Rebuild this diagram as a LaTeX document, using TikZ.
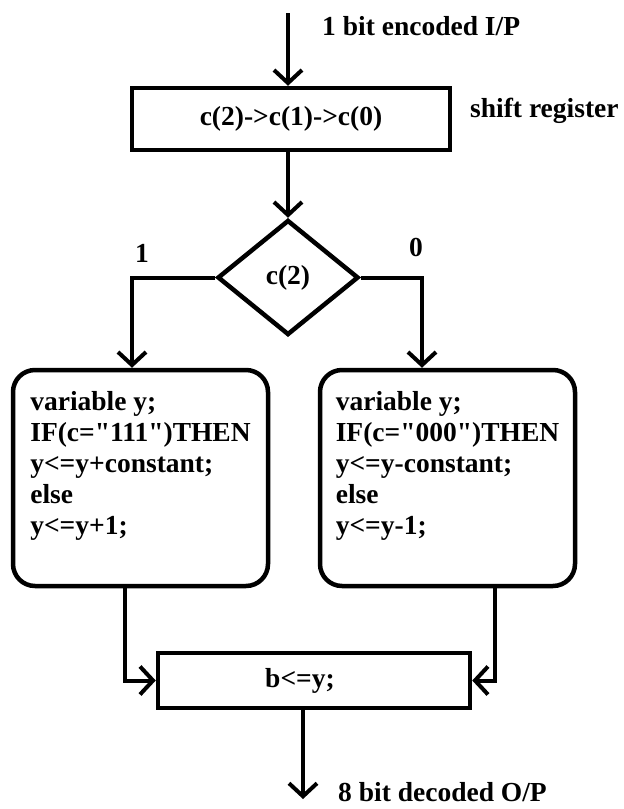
\documentclass[tikz,border=0pt]{standalone}
\usepackage{fontspec}
\setmainfont{Liberation Serif}[Ligatures=TeXOff]
\usetikzlibrary{shapes.geometric,arrows.meta}

\begin{document}
\begin{tikzpicture}[x=1pt,y=-1pt,
    every node/.style={font=\fontsize{27.5}{31}\selectfont\bfseries},
    box/.style={draw,line width=4.5pt,inner sep=0pt},
    codebox/.style={box,rounded corners=22pt,minimum width=255pt,minimum height=216pt,align=left},
    arr/.style={line width=4pt,-{Straight Barb[length=13pt,width=28pt]}},
    lbl/.style={inner sep=0pt}]
\useasboundingbox (0,0) rectangle (624,809);

% blocks
\node[box,minimum width=318pt,minimum height=62pt] (shreg) at (291,119) {c(2)->c(1)->c(0)};
\node[box,diamond,minimum width=141pt,minimum height=115pt] (cond) at (288,277.5) {c(2)};
\node[codebox] (upbox) at (140.5,478) {variable y;\\IF(c="111")THEN\\y<=y+constant;\\else\\y<=y+1;\\~};
\node[codebox] (dnbox) at (447.5,478) {variable y;\\IF(c="000")THEN\\y<=y-constant;\\else\\y<=y-1;\\~};
\node[box,minimum width=312pt,minimum height=55pt] (outreg) at (314,680.5) {\hspace*{-28pt}b<=y;};

% free ends
\coordinate (in) at (288,13);
\coordinate (out) at (303,799);

% labels
\node[lbl,anchor=base west] (inlbl) at (322,35) {1 bit encoded I/P};
\node[lbl,anchor=base west] (shlbl) at (470,117) {shift register};
\node[lbl,anchor=base] (onelbl) at (142,262) {1};
\node[lbl,anchor=base] (zerolbl) at (416,256) {0};
\node[lbl,anchor=base west] (outlbl) at (338,801) {8 bit decoded O/P};

% connectors
\draw[arr] (in) -- (in |- shreg.north);
\draw[arr] (cond.north |- shreg.south) -- (cond.north);
\draw[arr] (cond.west) -| ([xshift=-8.5pt]upbox.north);
\draw[arr] (cond.east) -| ([xshift=-25.5pt]dnbox.north);
\draw[arr] ([xshift=-15.5pt]upbox.south) |- (outreg.west);
\draw[arr] ([xshift=47.5pt]dnbox.south) |- (outreg.east);
\draw[arr] (out |- outreg.south) -- (out);
\end{tikzpicture}
\end{document}
